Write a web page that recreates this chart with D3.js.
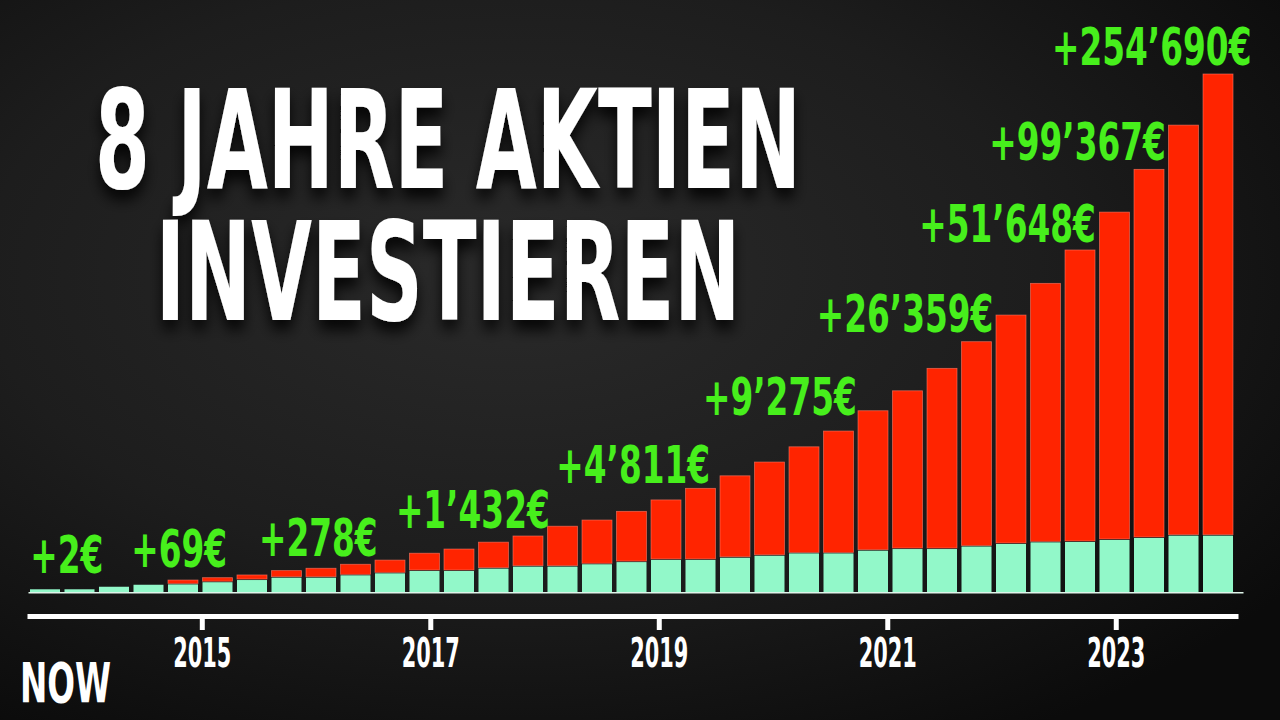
<!DOCTYPE html>
<html>
<head>
<meta charset="utf-8">
<script src="https://cdn.jsdelivr.net/npm/d3@7/dist/d3.min.js"></script>
<style>
  html, body { margin: 0; padding: 0; background: #111; }
  svg { display: block; }
  text { font-family: "DejaVu Sans Condensed", "DejaVu Sans", sans-serif; font-weight: bold; font-stretch: condensed; }
</style>
</head>
<body>
<svg id="chart" width="1280" height="720"></svg>
<script>
// ---------- DATA ----------
const periods = d3.range(1, 36); // 35 bars
// invested capital (k€)
const invested = [1.5,1.5,2.9,4.0,4.2,5.4,6.6,7.9,7.9,9.2,10.3,11.6,11.6,12.9,14.0,14.0,15.3,16.5,17.7,17.7,18.9,20.0,21.3,21.3,22.8,23.7,23.7,25.1,26.5,27.4,27.6,28.7,29.8,31.1,31.1];
// gain (k€)
const gain = [0,0,0,0,2.4,2.5,2.8,3.9,5.2,6.1,7.3,9.8,12.1,14.6,16.9,22.3,24.4,28.0,33.1,39.5,45.2,51.7,58.8,67.5,77.2,87.3,99.7,113.0,126.3,142.9,161.1,180.9,203.4,226.5,254.7];
const gainLabels = ["+2€","+69€","+278€","+1’432€","+4’811€","+9’275€","+26’359€","+51’648€","+99’367€","+254’690€"];
const years = [2015, 2017, 2019, 2021, 2023];
const titleLines = ["8 JAHRE AKTIEN", "INVESTIEREN"];
const nowLabel = "NOW";

// ---------- LAYOUT ----------
const labelIndex = [0.63, 3.89, 7.92, 12.4, 17.05, 21.3, 24.93, 27.9, 29.93, 32.08];
const labelLevel = [10.3, 14.0, 19.9, 35.1, 60.3, 97.7, 143.4, 193.1, 238.3, 290.8];

const svg = d3.select("#chart");
const W = 1280, H = 720;

const defs = svg.append("defs");
const rg = defs.append("radialGradient").attr("id", "bg")
  .attr("cx", "40%").attr("cy", "38%").attr("r", "75%");
rg.append("stop").attr("offset", "0%").attr("stop-color", "#2a2a2a");
rg.append("stop").attr("offset", "55%").attr("stop-color", "#1d1d1d");
rg.append("stop").attr("offset", "100%").attr("stop-color", "#0b0b0b");
const f = defs.append("filter").attr("id", "shadow").attr("x", "-10%").attr("y", "-20%").attr("width", "120%").attr("height", "150%");
f.append("feDropShadow").attr("dx", 0).attr("dy", 10).attr("stdDeviation", 7)
  .attr("flood-color", "#000").attr("flood-opacity", 0.85);

svg.append("rect").attr("width", W).attr("height", H).attr("fill", "url(#bg)");

const data = periods.map((p, i) => ({ p: i, inv: invested[i], gain: gain[i] }));

const x = d3.scaleBand().domain(data.map(d => d.p)).range([25.5, 1237.5])
  .paddingInner(0.13).paddingOuter(0.13);
const y = d3.scaleLinear().domain([0, d3.max(data, d => d.inv + d.gain)]).range([592, 74]);
const xAt = idx => x(0) + x.bandwidth() / 2 + idx * x.step();

// horizontal condensing of glyphs via transform (keeps bounding boxes true)
function squeezeAt(sel, ratio, fx, fy) {
  sel.each(function (d, i) {
    d3.select(this).attr("x", 0).attr("y", 0)
      .attr("transform", `translate(${fx(d, i)},${fy(d, i)}) scale(${ratio},1)`);
  });
}

// ---------- TITLE ----------
const title = svg.append("g").attr("filter", "url(#shadow)");
title.selectAll("text").data(titleLines).join("text")
  .attr("text-anchor", "middle").attr("fill", "#ffffff")
  .attr("font-size", 137).text(d => d)
  .call(squeezeAt, 0.64, () => 448, (d, i) => i === 0 ? 188 : 320);

// ---------- BARS ----------
const bars = svg.append("g");
bars.selectAll("rect.inv").data(data).join("rect").attr("class", "inv")
  .attr("x", d => x(d.p)).attr("width", x.bandwidth())
  .attr("y", d => y(d.inv)).attr("height", d => y(0) - y(d.inv))
  .attr("fill", "#92f8c9");
bars.selectAll("rect.gain").data(data.filter(d => d.gain > 0)).join("rect").attr("class", "gain")
  .attr("x", d => x(d.p)).attr("width", x.bandwidth())
  .attr("y", d => y(d.inv + d.gain)).attr("height", d => y(d.inv) - y(d.inv + d.gain) - 1)
  .attr("fill", "#ff2400").attr("stroke", "#ff7a66").attr("stroke-width", 0.8).attr("stroke-opacity", 0.7);

svg.append("line").attr("x1", x.range()[0] + 3).attr("x2", x.range()[1] + 6)
  .attr("y1", y(0) + 0.7).attr("y2", y(0) + 0.7)
  .attr("stroke", "#dff5ea").attr("stroke-width", 1.4);

// ---------- GAIN LABELS ----------
svg.append("g").selectAll("text").data(gainLabels).join("text")
  .attr("text-anchor", "middle").attr("fill", "#47ef1c")
  .attr("font-size", 52).text(d => d)
  .call(squeezeAt, 0.7, (d, i) => xAt(labelIndex[i]), (d, i) => y(labelLevel[i]));

// ---------- YEAR AXIS ----------
const xt = d3.scaleLinear().domain([2013.47, 2024.07]).range([27, 1238]);
const axis = d3.axisBottom(xt).tickValues(years).tickFormat(d3.format("d"))
  .tickSize(14).tickSizeOuter(0).tickPadding(9);
const ag = svg.append("g").attr("transform", "translate(0,616)").call(axis);
ag.attr("font-family", null).attr("font-size", null);
ag.select(".domain").attr("stroke", "#fff").attr("stroke-width", 5);
ag.selectAll(".tick line").attr("stroke", "#fff").attr("stroke-width", 5);
ag.selectAll(".tick text").attr("fill", "#fff").attr("font-size", 40)
  .attr("transform", "scale(0.58,1)");

// ---------- NOW ----------
svg.append("text").datum(nowLabel).attr("fill", "#fff")
  .attr("font-size", 55).text(d => d)
  .call(squeezeAt, 0.66, () => 20, () => 702);
</script>
</body>
</html>
